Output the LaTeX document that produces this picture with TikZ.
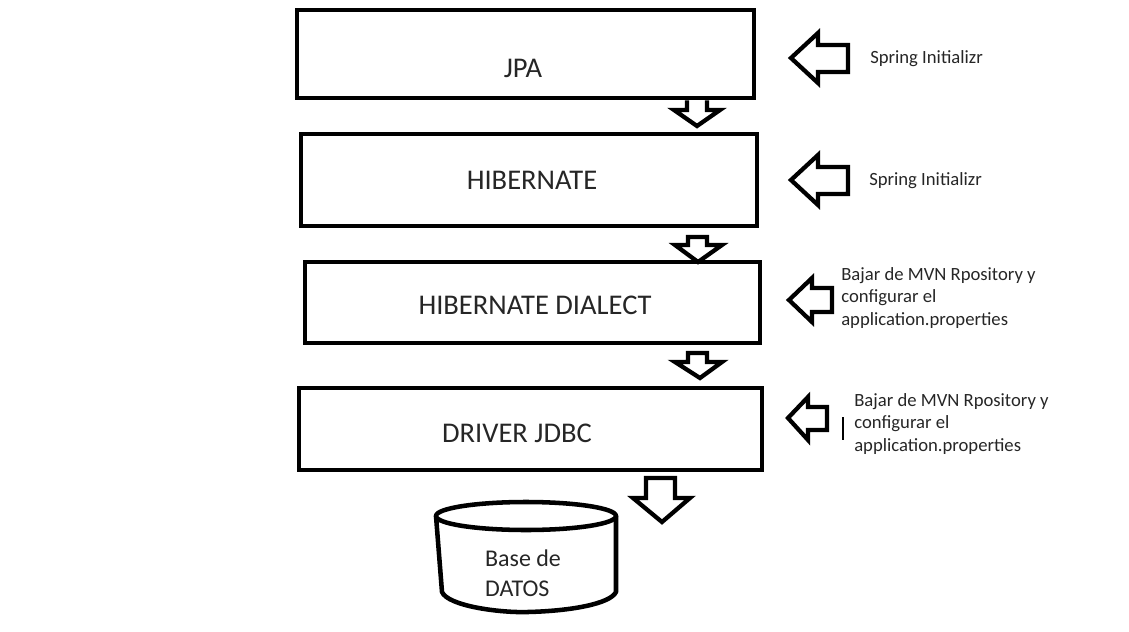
\documentclass[tikz,border=0pt]{standalone}
\usepackage{fontspec}
\setmainfont{Carlito}
\definecolor{txt}{RGB}{38,38,38}
\tikzset{
  box/.style={draw=black, line width=3.4pt, rectangle, inner sep=0pt},
  boxlabel/.style={font=\fontsize{21.4}{25}\selectfont, text=txt, inner sep=0pt},
  sidelabel/.style={font=\fontsize{14}{16.9}\selectfont, text=txt, align=left, anchor=west, inner sep=0pt},
  dblabel/.style={font=\fontsize{18}{22.5}\selectfont, text=txt, align=left, inner sep=0pt},
  blockarrow/.style={draw=black, line width=3.2pt, fill=white, line join=miter},
}
\begin{document}
\begin{tikzpicture}[x=0.75pt,y=-0.75pt]
\useasboundingbox (0,0) rectangle (1129,632);
% boxes
\node[box, minimum width=342.75pt, minimum height=66pt] (jpa) at (525.5,54) {};
\node[box, minimum width=342pt, minimum height=69pt] (hib) at (529,180) {};
\node[box, minimum width=341.25pt, minimum height=60.75pt] (dia) at (532.5,302.5) {};
\node[box, minimum width=347.25pt, minimum height=61.5pt] (jdbc) at (530.5,429) {};
% box labels
\node[boxlabel] (tjpa) at (523,68) {JPA};
\node[boxlabel] (thib) at (532,180) {HIBERNATE};
\node[boxlabel] (tdia) at (535,305) {HIBERNATE DIALECT};
\node[boxlabel] (tjdbc) at (517,433) {DRIVER JDBC};
% down arrows
\draw[blockarrow] (jpa.south -| 687,0) -- (687,110) -- (674,110) -- (697,126) -- (720,110) -- (707,110) -- (jpa.south -| 707,0);
\draw[blockarrow] (688,237) -- (688,245) -- (675,245) -- (698,262) -- (722,245) -- (707,245) -- (707,237) -- cycle;
\draw[blockarrow] (688,353) -- (688,362) -- (675,362) -- (700,378) -- (722,362) -- (707,362) -- (707,353) -- cycle;
\draw[blockarrow] (646,478) -- (646,498) -- (633,498) -- (662,522) -- (690,498) -- (675,498) -- (675,478) -- cycle;
% left arrows
\draw[blockarrow] (791,58) -- (818,33) -- (818,45) -- (848,45) -- (848,72) -- (818,72) -- (818,83) -- cycle;
\draw[blockarrow] (791,180) -- (818,155) -- (818,167) -- (848,167) -- (848,194) -- (818,194) -- (818,205) -- cycle;
\draw[blockarrow] (789,300) -- (812,278) -- (812,288) -- (832,288) -- (832,312) -- (812,312) -- (812,322) -- cycle;
\draw[blockarrow] (788,418) -- (808,397) -- (808,407) -- (827,407) -- (827,430) -- (808,430) -- (808,440) -- cycle;
\draw[line width=2.2pt] (843,417) -- (843,440);
% side labels
\node[sidelabel] (s1) at (870,59) {Spring Initializr};
\node[sidelabel] (s2) at (869,181) {Spring Initializr};
\node[sidelabel] (s3) at (841,298) {Bajar de MVN Rpository y\\configurar el\\application.properties};
\node[sidelabel] (s4) at (854,424) {Bajar de MVN Rpository y\\configurar el\\application.properties};
% database cylinder
\draw[line width=3.4pt, line join=round] (526,516) ellipse [x radius=90, y radius=14];
\draw[line width=3.4pt, line join=round, line cap=round]
  (436,516) -- (442,592) .. controls (448,606) and (500,613) .. (528,612)
  .. controls (570,611) and (610,604) .. (616,592) -- (616,516);
\node[dblabel] (db) at (523,573) {Base de\\DATOS};
\end{tikzpicture}
\end{document}
